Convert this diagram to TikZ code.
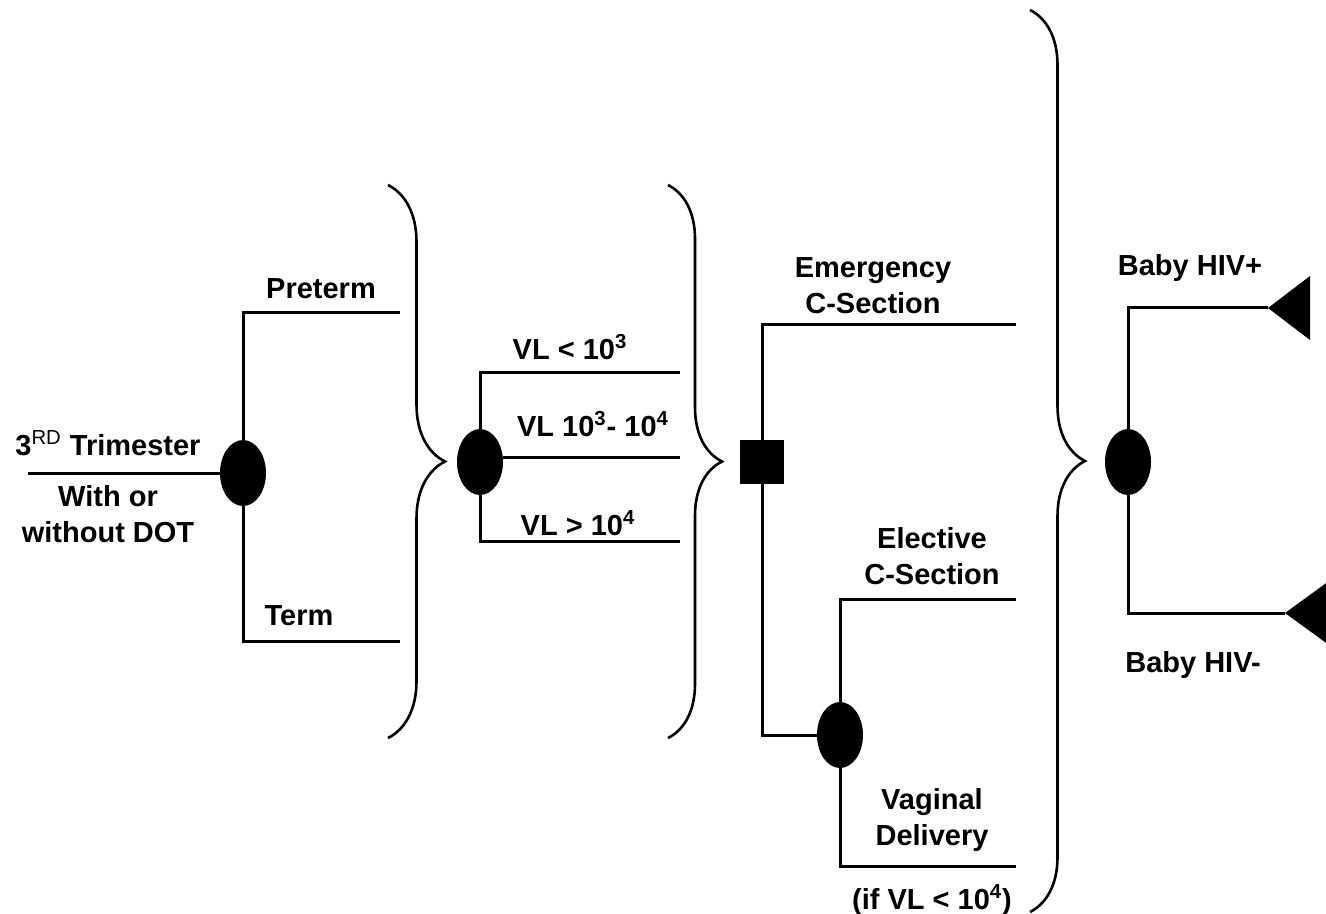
\documentclass[tikz,border=0pt]{standalone}
\usepackage{fontspec}
\setmainfont{Liberation Sans}
\usetikzlibrary{shapes.geometric, decorations.pathreplacing}

\begin{document}
\begin{tikzpicture}[
  x=0.5pt, y=-0.5pt,
  chance/.style={ellipse, fill=black, inner sep=0pt,
    minimum width=23pt, minimum height=33pt},
  decision/.style={rectangle, fill=black, inner sep=0pt, minimum size=22pt},
  lbl/.style={font=\fontsize{14.5}{18}\selectfont\bfseries, align=center,
    inner sep=0pt},
  branch/.style={line width=1.5pt},
  bracket/.style={decorate, decoration={brace, amplitude=#1}, line width=1.3pt}
]
  \useasboundingbox (0,0) rectangle (1326,914);

  % Nodes
  \coordinate (start) at (28,473);
  \node[chance] (tri) at (243,473) {};
  \node[chance] (vl) at (480,462) {};
  \node[decision] (mode) at (762,462) {};
  \node[chance] (deliv) at (840,735) {};
  \node[chance] (baby) at (1128,462) {};

  % Branch ends
  \coordinate (pre) at (400,313);
  \coordinate (term) at (400,641);
  \coordinate (vllow) at (680,372);
  \coordinate (vlmid) at (680,457);
  \coordinate (vlhigh) at (680,541);
  \coordinate (emerg) at (1016,325);
  \coordinate (elect) at (1016,599);
  \coordinate (vagin) at (1016,866);
  \coordinate (hivpos) at (1268,308);
  \coordinate (hivneg) at (1285,613);

  % Labels
  \node[lbl] (t3rd) at (108,443) {3\textsuperscript{\mdseries RD} Trimester};
  \node[lbl] (dot) at (108,514) {With or\\without DOT};
  \node[lbl] (lpre) at (321,289) {Preterm};
  \node[lbl] (lterm) at (299,616) {Term};
  \node[lbl] (lvllow) at (570,347) {VL < 10\textsuperscript{3}};
  \node[lbl] (lvlmid) at (593,424) {VL 10\textsuperscript{3}- 10\textsuperscript{4}};
  \node[lbl] (lvlhigh) at (578,523) {VL > 10\textsuperscript{4}};
  \node[lbl] (lemerg) at (873,286) {Emergency\\C-Section};
  \node[lbl] (lelect) at (932,556) {Elective\\C-Section};
  \node[lbl] (lvagin) at (932,820) {Vaginal\\Delivery};
  \node[lbl] (lif) at (932,900) {(if VL < 10\textsuperscript{4})};
  \node[lbl] (lpos) at (1190,268) {Baby HIV+};
  \node[lbl] (lneg) at (1193,665) {Baby HIV-};

  % Branches
  \draw[branch] (start) -- (tri);
  \draw[branch] (tri) |- (pre);
  \draw[branch] (tri) |- (term);
  \draw[branch] (vl) |- (vllow);
  \draw[branch] (vl.east |- vlmid) -- (vlmid);
  \draw[branch] (vl) |- (vlhigh);
  \draw[branch] (mode) |- (emerg);
  \draw[branch] (mode) |- (deliv);
  \draw[branch] (deliv) |- (elect);
  \draw[branch] (deliv) |- (vagin);
  \draw[branch] (baby) |- (hivpos);
  \draw[branch] (baby) |- (hivneg);

  % Outcome triangles
  \fill (hivpos) -- ++(42,-32) -- ++(0,64) -- cycle;
  \fill (hivneg) -- ++(44,-32) -- ++(0,64) -- cycle;

  % Braces
  \draw[bracket=28.5pt] (388,185) -- (388,738);
  \draw[bracket=27pt] (668,185) -- (668,738);
  \draw[bracket=27.5pt] (1030,10) -- (1030,912);
\end{tikzpicture}
\end{document}
